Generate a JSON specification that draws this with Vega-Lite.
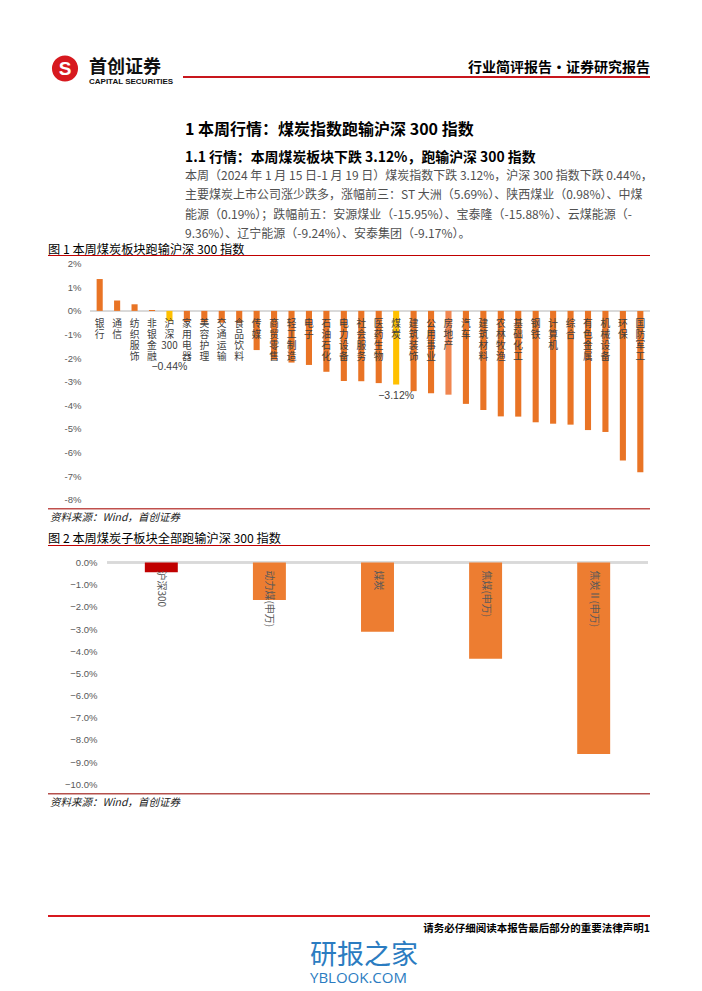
{
  "$schema": "https://vega.github.io/schema/vega-lite/v6.json",
  "background": "white",
  "padding": {"left": 48, "right": 52, "top": 0, "bottom": 0},
  "autosize": {"type": "pad"},
  "config": {"view": {"stroke": null}, "font": "Noto Sans CJK SC", "concat": {"spacing": 0}},
  "datasets": {
    "industries": [
      {"name": "银行", "value": 1.35},
      {"name": "通信", "value": 0.44},
      {"name": "纺织服饰", "value": 0.28},
      {"name": "非银金融", "value": 0.04},
      {"name": "沪深300", "value": -0.44},
      {"name": "家用电器", "value": -0.47},
      {"name": "美容护理", "value": -0.49},
      {"name": "交通运输", "value": -0.5},
      {"name": "食品饮料", "value": -0.52},
      {"name": "传媒", "value": -1.66},
      {"name": "商贸零售", "value": -2.07},
      {"name": "轻工制造", "value": -2.19},
      {"name": "电子", "value": -2.29},
      {"name": "石油石化", "value": -2.58},
      {"name": "电力设备", "value": -2.97},
      {"name": "社会服务", "value": -2.98},
      {"name": "医药生物", "value": -3.06},
      {"name": "煤炭", "value": -3.12},
      {"name": "建筑装饰", "value": -3.4},
      {"name": "公用事业", "value": -3.49},
      {"name": "房地产", "value": -3.55},
      {"name": "汽车", "value": -3.94},
      {"name": "建筑材料", "value": -4.2},
      {"name": "农林牧渔", "value": -4.47},
      {"name": "基础化工", "value": -4.48},
      {"name": "钢铁", "value": -4.72},
      {"name": "计算机", "value": -4.78},
      {"name": "综合", "value": -4.82},
      {"name": "有色金属", "value": -5.05},
      {"name": "机械设备", "value": -5.13},
      {"name": "环保", "value": -6.34},
      {"name": "国防军工", "value": -6.84}
    ],
    "coal": [
      {"name": "沪深300", "value": -0.44},
      {"name": "动力煤(申万)", "value": -1.69},
      {"name": "煤炭", "value": -3.12},
      {"name": "焦煤(申万)", "value": -4.34},
      {"name": "焦炭Ⅱ(申万)", "value": -8.64}
    ]
  },
  "vconcat": [
    {
      "width": 602, "height": 61,
      "data": {"values": []}, "mark": "point",
      "title": {"text": "行业简评报告·证券研究报告", "orient": "bottom", "anchor": "end", "frame": "group", "baseline": "top", "offset": 0.3, "fontSize": 14, "fontWeight": "bold", "color": "#000000"}
    },
    {
      "hconcat": [
        {
          "width": 34, "height": 15,
          "data": {"values": [{"logo": "首创证券"}]},
          "layer": [
            {"mark": {"type": "point", "filled": true, "size": 680, "color": "#D7191F", "opacity": 1}, "encoding": {}},
            {"mark": {"type": "text", "text": "S", "color": "white", "fontSize": 19, "fontWeight": "bold", "font": "Liberation Sans", "baseline": "middle"}, "encoding": {}}
          ]
        },
        {
          "width": 101, "height": 15,
          "data": {"values": []}, "mark": "point",
          "title": {"text": "首创证券", "orient": "bottom", "anchor": "start", "frame": "group", "baseline": "top", "offset": -16.9, "dx": 7, "fontSize": 18, "fontWeight": "bold", "color": "#111111",
            "subtitle": "CAPITAL SECURITIES", "subtitleFont": "Liberation Sans", "subtitleFontSize": 8, "subtitleFontWeight": "bold", "subtitleColor": "#111111", "subtitlePadding": 1}
        }
      ],
      "spacing": 0, "bounds": "flush"
    },
    {"width": 602, "height": 15, "data": {"values": []}, "mark": "point"},
    {
      "hconcat": [
        {"width": 135, "height": 2, "data": {"values": []}, "mark": "point"},
        {"width": 467, "height": 2, "data": {"values": []}, "mark": "point", "view": {"fill": "#C8161D", "stroke": null}}
      ],
      "spacing": 0, "bounds": "flush"
    },
    {"width": 602, "height": 2, "data": {"values": []}, "mark": "point"},
    {
      "width": 602, "height": 32,
      "data": {"values": []}, "mark": "point",
      "title": {"text": "1 本周行情：煤炭指数跑输沪深 300 指数", "orient": "bottom", "anchor": "start", "frame": "group", "baseline": "top", "offset": 11.7, "dx": 137, "fontSize": 16, "fontWeight": "bold", "color": "#000000",
        "subtitle": "1.1 行情：本周煤炭板块下跌 3.12%，跑输沪深 300 指数", "subtitleFontSize": 13.9, "subtitleFontWeight": "bold", "subtitleColor": "#000000", "subtitlePadding": 13.1}
    },
    {
      "width": 602, "height": 50,
      "data": {"values": []}, "mark": "point",
      "title": {"text": [
        "本周（2024 年 1 月 15 日-1 月 19 日）煤炭指数下跌 3.12%，沪深 300 指数下跌 0.44%，",
        "主要煤炭上市公司涨少跌多，涨幅前三：ST 大洲（5.69%）、陕西煤业（0.98%）、中煤",
        "能源（0.19%）；跌幅前五：安源煤业（-15.95%）、宝泰隆（-15.88%）、云煤能源（-",
        "9.36%）、辽宁能源（-9.24%）、安泰集团（-9.17%）。"
      ], "orient": "bottom", "anchor": "start", "frame": "group", "baseline": "top", "offset": 11.1, "dx": 137, "fontSize": 12, "fontWeight": "normal", "lineHeight": 19.3, "color": "#505050"}
    },
    {
      "width": 602, "height": 95,
      "data": {"values": []}, "mark": "point",
      "title": {"text": "图 1 本周煤炭板块跑输沪深 300 指数", "orient": "bottom", "anchor": "start", "frame": "group", "baseline": "top", "offset": -11, "fontSize": 12.2, "fontWeight": "normal", "color": "#000000"}
    },
    {"width": 602, "height": 1, "data": {"values": []}, "mark": "point", "view": {"fill": "#C00000", "stroke": null}},
    {
      "hconcat": [
        {"width": 42, "height": 252, "data": {"values": []}, "mark": "point"},
        {
          "width": 560, "height": 252,
          "data": {"name": "industries"},
          "layer": [
            {
              "mark": {"type": "rule", "color": "#D9D9D9", "strokeWidth": 1},
              "encoding": {
                "y": {"datum": 0, "type": "quantitative", "scale": {"domain": [-8.352, 2.326], "nice": false, "zero": false},
                  "axis": {"orient": "left", "values": [2, 1, 0, -1, -2, -3, -4, -5, -6, -7, -8], "labelExpr": "datum.value + '%'", "domain": false, "ticks": false, "grid": false, "labelColor": "#595959", "labelFont": "Liberation Sans", "labelFontSize": 9.5, "labelPadding": 9, "title": null}}
              }
            },
            {
              "mark": {"type": "bar"},
              "encoding": {
                "x": {"field": "name", "type": "nominal", "sort": null, "scale": {"paddingInner": 0.65, "paddingOuter": 0.38}, "axis": null},
                "y": {"field": "value", "type": "quantitative", "scale": {"domain": [-8.352, 2.326], "nice": false, "zero": false},
                  "axis": {"orient": "left", "values": [2, 1, 0, -1, -2, -3, -4, -5, -6, -7, -8], "labelExpr": "datum.value + '%'", "domain": false, "ticks": false, "grid": false, "labelColor": "#595959", "labelFont": "Liberation Sans", "labelFontSize": 9.5, "labelPadding": 9, "title": null}},
                "y2": {"datum": 0},
                "color": {"condition": [
                  {"test": "datum.name === '沪深300' || datum.name === '煤炭'", "value": "#FFC000"},
                  {"test": "datum.name === '房地产'", "value": "#F08650"}
                ], "value": "#E97425"}
              }
            },
            {
              "transform": [{"calculate": "split(replace(datum.name, regexp('([^0-9])(?=.)', 'g'), '$1|'), '|')", "as": "chars"}],
              "mark": {"type": "text", "baseline": "top", "align": "center", "dy": 8, "fontSize": 9.8, "lineHeight": 11.2, "color": "#404040"},
              "encoding": {
                "x": {"field": "name", "type": "nominal", "sort": null, "scale": {"paddingInner": 0.65, "paddingOuter": 0.38}, "axis": null},
                "y": {"datum": 0, "type": "quantitative", "scale": {"domain": [-8.352, 2.326], "nice": false, "zero": false},
                  "axis": {"orient": "left", "values": [2, 1, 0, -1, -2, -3, -4, -5, -6, -7, -8], "labelExpr": "datum.value + '%'", "domain": false, "ticks": false, "grid": false, "labelColor": "#595959", "labelFont": "Liberation Sans", "labelFontSize": 9.5, "labelPadding": 9, "title": null}},
                "text": {"field": "chars", "type": "nominal"}
              }
            },
            {
              "transform": [{"filter": "datum.name === '沪深300'"}, {"calculate": "format(datum.value, '.2f') + '%'", "as": "label"}],
              "mark": {"type": "text", "baseline": "middle", "align": "center", "dy": 45.7, "fontSize": 10.5, "font": "Liberation Sans", "color": "#404040"},
              "encoding": {
                "x": {"field": "name", "type": "nominal", "sort": null, "scale": {"paddingInner": 0.65, "paddingOuter": 0.38}, "axis": null},
                "y": {"field": "value", "type": "quantitative", "scale": {"domain": [-8.352, 2.326], "nice": false, "zero": false},
                  "axis": {"orient": "left", "values": [2, 1, 0, -1, -2, -3, -4, -5, -6, -7, -8], "labelExpr": "datum.value + '%'", "domain": false, "ticks": false, "grid": false, "labelColor": "#595959", "labelFont": "Liberation Sans", "labelFontSize": 9.5, "labelPadding": 9, "title": null}},
                "text": {"field": "label", "type": "nominal"}
              }
            },
            {
              "transform": [{"filter": "datum.name === '煤炭'"}, {"calculate": "format(datum.value, '.2f') + '%'", "as": "label"}],
              "mark": {"type": "text", "baseline": "middle", "align": "center", "dy": 11.5, "fontSize": 10.5, "font": "Liberation Sans", "color": "#404040"},
              "encoding": {
                "x": {"field": "name", "type": "nominal", "sort": null, "scale": {"paddingInner": 0.65, "paddingOuter": 0.38}, "axis": null},
                "y": {"field": "value", "type": "quantitative", "scale": {"domain": [-8.352, 2.326], "nice": false, "zero": false},
                  "axis": {"orient": "left", "values": [2, 1, 0, -1, -2, -3, -4, -5, -6, -7, -8], "labelExpr": "datum.value + '%'", "domain": false, "ticks": false, "grid": false, "labelColor": "#595959", "labelFont": "Liberation Sans", "labelFontSize": 9.5, "labelPadding": 9, "title": null}},
                "text": {"field": "label", "type": "nominal"}
              }
            }
          ]
        }
      ],
      "spacing": 0, "bounds": "flush"
    },
    {"width": 602, "height": 252, "data": {"values": []}, "mark": "point"},
    {
      "width": 602, "height": 1.5,
      "data": {"values": []}, "mark": "point", "view": {"fill": "#C0504D", "stroke": null},
      "title": {"text": "资料来源：Wind，首创证券", "orient": "bottom", "anchor": "start", "frame": "group", "baseline": "top", "offset": 3.2, "dx": 2, "fontSize": 10.5, "fontStyle": "italic", "fontWeight": "normal", "color": "#222222"}
    },
    {
      "width": 602, "height": 35,
      "data": {"values": []}, "mark": "point",
      "title": {"text": "图 2 本周煤炭子板块全部跑输沪深 300 指数", "orient": "bottom", "anchor": "start", "frame": "group", "baseline": "top", "offset": -12.5, "fontSize": 12.2, "fontWeight": "normal", "color": "#000000"}
    },
    {"width": 602, "height": 1, "data": {"values": []}, "mark": "point", "view": {"fill": "#C00000", "stroke": null}},
    {
      "hconcat": [
        {"width": 59, "height": 247, "data": {"values": []}, "mark": "point"},
        {
          "width": 541, "height": 247,
          "data": {"name": "coal"},
          "layer": [
            {
              "mark": {"type": "rule", "color": "#D9D9D9", "strokeWidth": 2},
              "encoding": {
                "y": {"datum": 0, "type": "quantitative", "scale": {"domain": [-10.397, 0.744], "nice": false, "zero": false},
                  "axis": {"orient": "left", "values": [0, -1, -2, -3, -4, -5, -6, -7, -8, -9, -10], "labelExpr": "format(datum.value, '.1f') + '%'", "domain": false, "ticks": false, "grid": false, "labelColor": "#595959", "labelFont": "Liberation Sans", "labelFontSize": 9.5, "labelPadding": 10, "title": null}}
              }
            },
            {
              "mark": {"type": "bar"},
              "encoding": {
                "x": {"field": "name", "type": "nominal", "sort": null, "scale": {"paddingInner": 0.695, "paddingOuter": 0.35}, "axis": null},
                "y": {"field": "value", "type": "quantitative", "scale": {"domain": [-10.397, 0.744], "nice": false, "zero": false},
                  "axis": {"orient": "left", "values": [0, -1, -2, -3, -4, -5, -6, -7, -8, -9, -10], "labelExpr": "format(datum.value, '.1f') + '%'", "domain": false, "ticks": false, "grid": false, "labelColor": "#595959", "labelFont": "Liberation Sans", "labelFontSize": 9.5, "labelPadding": 10, "title": null}},
                "y2": {"datum": 0},
                "color": {"condition": {"test": "datum.name === '沪深300'", "value": "#C00000"}, "value": "#ED7D31"}
              }
            },
            {
              "mark": {"type": "text", "angle": 90, "align": "left", "baseline": "middle", "dx": 8, "fontSize": 10, "color": "#595959"},
              "encoding": {
                "x": {"field": "name", "type": "nominal", "sort": null, "scale": {"paddingInner": 0.695, "paddingOuter": 0.35}, "axis": null},
                "y": {"datum": 0, "type": "quantitative", "scale": {"domain": [-10.397, 0.744], "nice": false, "zero": false},
                  "axis": {"orient": "left", "values": [0, -1, -2, -3, -4, -5, -6, -7, -8, -9, -10], "labelExpr": "format(datum.value, '.1f') + '%'", "domain": false, "ticks": false, "grid": false, "labelColor": "#595959", "labelFont": "Liberation Sans", "labelFontSize": 9.5, "labelPadding": 10, "title": null}},
                "text": {"field": "name", "type": "nominal"}
              }
            }
          ]
        }
      ],
      "spacing": 0, "bounds": "flush"
    },
    {"width": 602, "height": 247, "data": {"values": []}, "mark": "point"},
    {
      "width": 602, "height": 1.5,
      "data": {"values": []}, "mark": "point", "view": {"fill": "#B5504C", "stroke": null},
      "title": {"text": "资料来源：Wind，首创证券", "orient": "bottom", "anchor": "start", "frame": "group", "baseline": "top", "offset": 3.4, "dx": 2, "fontSize": 10.5, "fontStyle": "italic", "fontWeight": "normal", "color": "#222222"}
    },
    {"width": 602, "height": 119.5, "data": {"values": []}, "mark": "point"},
    {
      "width": 602, "height": 2,
      "data": {"values": []}, "mark": "point", "view": {"fill": "#D7191F", "stroke": null},
      "title": {"text": "请务必仔细阅读本报告最后部分的重要法律声明1", "orient": "bottom", "anchor": "end", "frame": "group", "baseline": "top", "offset": 7.2, "fontSize": 10.5, "fontWeight": "bold", "color": "#000000"}
    },
    {
      "width": 602, "height": 24.5,
      "data": {"values": []}, "mark": "point",
      "title": {"text": "研报之家", "orient": "bottom", "anchor": "start", "frame": "group", "baseline": "top", "offset": 1, "dx": 262, "fontSize": 27, "fontWeight": "normal", "color": "#2B7CC1",
        "subtitle": "YBLOOK.COM", "subtitleFont": "Open Sans", "subtitleFontSize": 15, "subtitleColor": "#2B7CC1", "subtitlePadding": 1}
    }
  ],
  "spacing": 0,
  "bounds": "flush"
}
